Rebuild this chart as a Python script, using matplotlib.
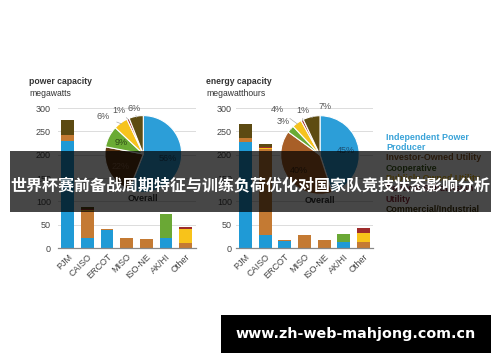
import numpy as np
import matplotlib
matplotlib.use("Agg")
import matplotlib.pyplot as plt
from matplotlib.patches import Rectangle

plt.rcParams['font.family'] = ['Liberation Sans', 'DejaVu Sans']

W, H = 500, 362

# === Data ===
regions = ["PJM", "CAISO", "ERCOT", "MISO", "ISO-NE", "AK/HI", "Other"]
owners = ["Independent Power\nProducer", "Investor-Owned Utility", "Cooperative",
          "Publicly Owned Utility", "Political Subdivision\nUtility", "Commercial/Industrial"]

# power capacity (MW) by owner type
power_ipp = [230, 21, 38, 0, 0, 22, 0]
power_iou = [13, 58, 3, 21, 19, 0, 10]
power_coop = [0, 0, 0, 0, 0, 50, 0]
power_pub = [0, 2, 0, 0, 0, 0, 31]
power_sub = [0, 2, 0, 0, 0, 0, 4]
power_ci = [31, 5, 0, 0, 0, 0, 0]
power_share = [56, 22, 9, 6, 1, 6]

# energy capacity (MWh) by owner type
energy_ipp = [227, 28, 14, 0, 0, 12, 0]
energy_iou = [9, 184, 3, 27, 17, 0, 13]
energy_coop = [0, 0, 0, 0, 0, 19, 0]
energy_pub = [0, 3, 0, 0, 0, 0, 20]
energy_sub = [0, 2, 0, 0, 0, 0, 9]
energy_ci = [30, 5, 0, 0, 0, 0, 0]
energy_share = [45, 40, 3, 4, 1, 7]

banner_text = "世界杯赛前备战周期特征与训练负荷优化对国家队竞技状态影响分析"
site_text = "www.zh-web-mahjong.com.cn"

# === Styles ===
bar_colors = ['#1f9ad6', '#c47a33', '#6aa835', '#f8c31a', '#9e2b2b', '#5c4a12']
legend_colors = ['#3aa3d8', '#8b5a2b', '#3e5e1e', '#e8b620', '#8b2a3a', '#4a3c12']
txt = '#444444'


def px_axes(x0, y0, x1, y1):
    # pixel box (top-left origin) -> figure axes
    return fig.add_axes([x0 / W, 1 - y1 / H, (x1 - x0) / W, (y1 - y0) / H])


def bar_panel(x0, x1, layers, title, unit, pad, title_x):
    ax = px_axes(x0, 108, x1, 248)
    x = np.arange(len(regions))
    bottom = np.zeros(len(regions))
    for vals, c in zip(layers, bar_colors):
        ax.bar(x, vals, 0.65, bottom=bottom, color=c, linewidth=0, zorder=2)
        bottom += np.array(vals)
    ax.set_xlim(-0.5, len(regions) - 0.5)
    ax.set_ylim(0, 300)
    ax.set_yticks(range(0, 301, 50))
    ax.set_xticks(x)
    ax.set_xticklabels(regions, rotation=45, ha='right', rotation_mode='anchor')
    ax.grid(axis='y', color='#dcdcdc', linewidth=0.7, zorder=0)
    for s in ['top', 'right', 'left']:
        ax.spines[s].set_visible(False)
    ax.spines['bottom'].set_color('#888888')
    ax.spines['bottom'].set_linewidth(0.9)
    ax.tick_params(axis='both', length=0, labelsize=6.5, colors=txt)
    ax.tick_params(axis='y', pad=pad)
    ax.tick_params(axis='x', pad=3)
    fig.text(title_x / W, 1 - 81.7 / H, title,
             fontsize=6.2, fontweight='bold', color='#333333', va='center')
    fig.text(title_x / W, 1 - 93.3 / H, unit,
             fontsize=6.2, color='#333333', va='center')
    return ax


def pie_inset(cx, cy, r, shares, colors, inner_colors, outside):
    ax = fig.add_axes([(cx - r) / W, 1 - (cy + r) / H, 2 * r / W, 2 * r / H])
    wedges, _ = ax.pie(shares, colors=colors, startangle=90, counterclock=False,
                       wedgeprops=dict(edgecolor='white', linewidth=0.8))
    ax.set_xlim(-1, 1)
    ax.set_ylim(-1, 1)
    k = 0
    for i, w in enumerate(wedges):
        mid = np.deg2rad((w.theta1 + w.theta2) / 2)
        lab = f"{shares[i]}%"
        if i in outside:
            ang, d = outside[i]
            a = np.deg2rad(ang)
            ax.annotate(lab, xy=(0.97 * np.cos(mid), 0.97 * np.sin(mid)),
                        xytext=(d * np.cos(a), d * np.sin(a)),
                        ha='center', va='center', fontsize=6.5, color='#555555',
                        arrowprops=dict(arrowstyle='-', color='#aaaaaa', lw=0.5,
                                        shrinkA=3, shrinkB=0),
                        annotation_clip=False)
        else:
            ax.text(0.66 * np.cos(mid), 0.66 * np.sin(mid), lab, ha='center',
                    va='center', fontsize=6.5, color=inner_colors[k])
            k += 1
    ax.text(0, -1.17, "Overall", ha='center', va='center', fontsize=6.5,
            fontweight='bold', color='#333333', clip_on=False)
    return ax


fig = plt.figure(figsize=(W / 100, H / 100), dpi=100)
fig.patch.set_facecolor('white')

bar_panel(58, 195.5, [power_ipp, power_iou, power_coop, power_pub, power_sub, power_ci],
          "power capacity", "megawatts", 5, 29)
bar_panel(235.6, 373.3, [energy_ipp, energy_iou, energy_coop, energy_pub, energy_sub, energy_ci],
          "energy capacity", "megawatthours", 2.7, 206)

left_pie_colors = ['#2c9ed8', '#5e3714', '#6aab34', '#f6c31c', '#a3302c', '#5e4c12']
right_pie_colors = ['#2c9ed8', '#a85f27', '#6aab34', '#f6c31c', '#a3302c', '#5e4c12']
pie_inset(143.3, 154, 38.4, power_share, left_pie_colors,
          ['#1d4f72', '#8a6244', '#2f4a16'],
          {3: (137, 1.42), 4: (119, 1.3), 5: (101, 1.22)})
pie_inset(320, 155, 39.3, energy_share, right_pie_colors,
          ['#1d4f72', '#4a2a10'],
          {2: (138, 1.26), 3: (133, 1.6), 4: (111, 1.2), 5: (84, 1.24)})

# legend as coloured text, one row per line
y = 137.3
for name, c in zip(owners, legend_colors):
    for line in name.split("\n"):
        fig.text(386 / W, 1 - y / H, line, fontsize=6.4, fontweight='bold',
                 color=c, va='center')
        y += 10.3

# dark banner across the middle
fig.patches.append(Rectangle((10 / W, 1 - 212 / H), 481 / W, 61 / H,
                             transform=fig.transFigure, facecolor='black',
                             alpha=0.72, edgecolor='none', zorder=5))
fig.text(250 / W, 1 - 185 / H, banner_text, family=['Noto Sans CJK SC', 'DejaVu Sans'],
         fontsize=11.5, fontweight='bold', color='white', ha='center', va='center', zorder=6)

# website box
fig.patches.append(Rectangle((221 / W, 1 - 353 / H), 270 / W, 38 / H,
                             transform=fig.transFigure, facecolor='black',
                             edgecolor='none', zorder=5))
fig.text(356 / W, 1 - 334 / H, site_text, family='DejaVu Sans', fontsize=10.3,
         fontweight='bold', color='white', ha='center', va='center', zorder=6)

fig.savefig("out.png", dpi=100)
